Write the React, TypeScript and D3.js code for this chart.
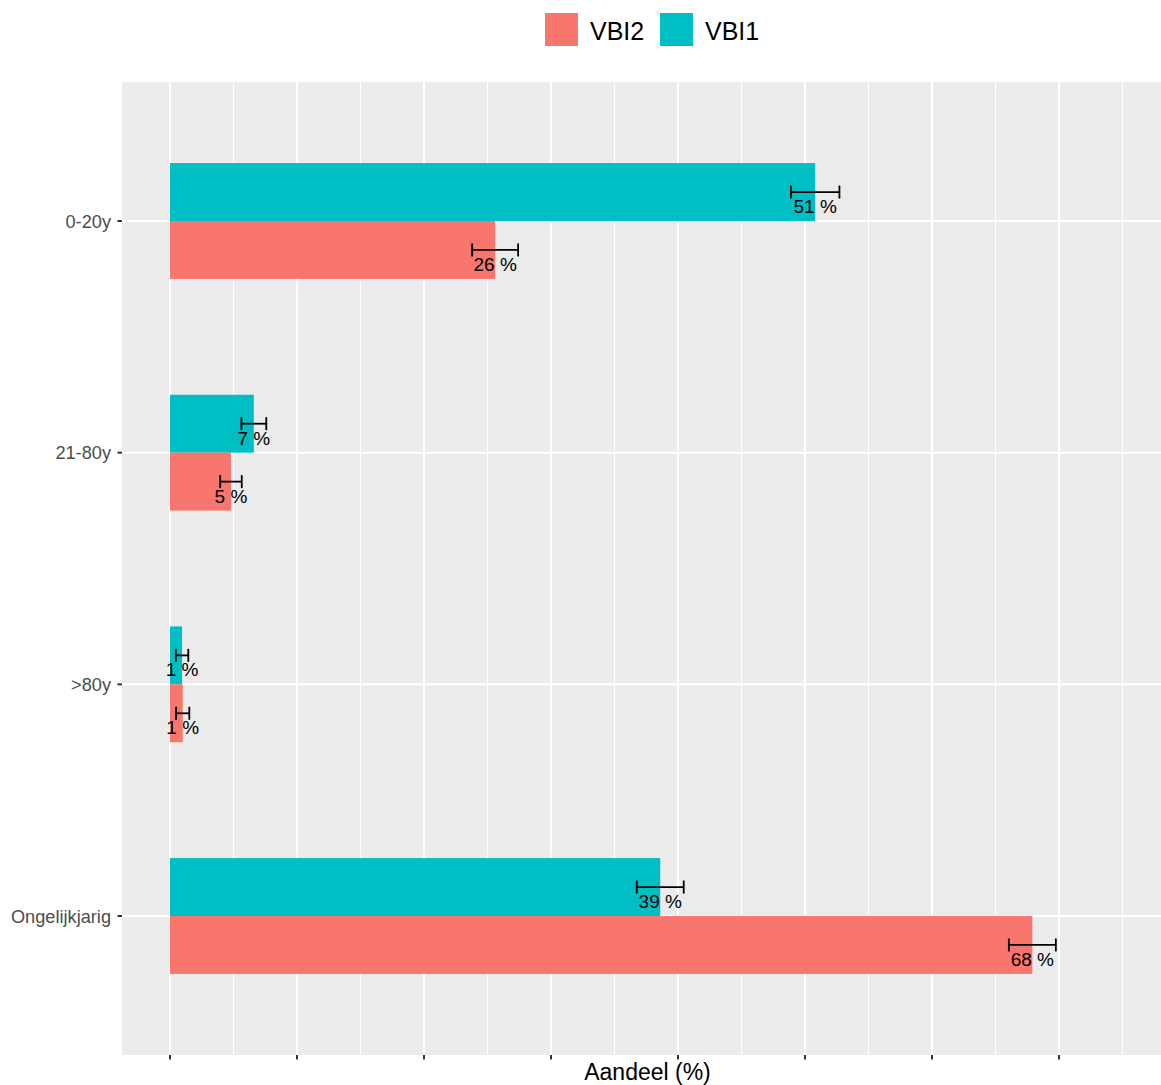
import React from "react";
import * as d3 from "d3";

const categories = ["0-20y", "21-80y", ">80y", "Ongelijkjarig"];
const vbi1Values = [50.8, 6.6, 0.95, 38.6];
const vbi2Values = [25.6, 4.8, 1.0, 67.9];
const vbi1Err = [1.91, 0.98, 0.49, 1.85];
const vbi2Err = [1.81, 0.85, 0.52, 1.85];
const majorTicks = [0, 10, 20, 30, 40, 50, 60, 70];
const minorTicks = [5, 15, 25, 35, 45, 55, 65, 75];
const seriesNames = ["VBI2", "VBI1"];
const seriesColors = ["#F8766D", "#00BFC4"];

const W = 1161;
const H = 1085;
const panel = { left: 122, right: 1161, top: 82, bottom: 1055 };

export default function App() {
  const x = d3.scaleLinear().domain([-3.78, 78.03]).range([panel.left, panel.right]);
  const y = d3.scalePoint<string>().domain(categories).range([panel.top, panel.bottom]).padding(0.6);
  const step = y.step();
  const barH = step * 0.25;
  const font = "Arial, 'Liberation Sans', sans-serif";

  const series = [
    { name: "VBI1", values: vbi1Values, err: vbi1Err, color: seriesColors[1], offset: -1 },
    { name: "VBI2", values: vbi2Values, err: vbi2Err, color: seriesColors[0], offset: 0 },
  ];

  return (
    <svg width={W} height={H} style={{ position: "absolute", left: 0, top: 0, display: "block", background: "#fff" }}>
      <rect x={panel.left} y={panel.top} width={panel.right - panel.left} height={panel.bottom - panel.top} fill="#EBEBEB" />
      {minorTicks.map((t) => (
        <line key={"mn" + t} x1={x(t)} x2={x(t)} y1={panel.top} y2={panel.bottom} stroke="#fff" strokeWidth={1} />
      ))}
      {majorTicks.map((t) => (
        <line key={"mj" + t} x1={x(t)} x2={x(t)} y1={panel.top} y2={panel.bottom} stroke="#fff" strokeWidth={2} />
      ))}
      {categories.map((c) => (
        <line key={"hg" + c} x1={panel.left} x2={panel.right} y1={y(c)} y2={y(c)} stroke="#fff" strokeWidth={2} />
      ))}
      {series.map((s) =>
        categories.map((c, i) => {
          const yc = y(c)!;
          const top = yc + s.offset * barH;
          const mid = top + barH / 2;
          const v = s.values[i];
          const e = s.err[i];
          return (
            <g key={s.name + c}>
              <rect x={x(0)} y={top} width={x(v) - x(0)} height={barH} fill={s.color} />
              <line x1={x(v - e)} x2={x(v + e)} y1={mid} y2={mid} stroke="#000" strokeWidth={1.8} />
              <line x1={x(v - e)} x2={x(v - e)} y1={mid - 6.5} y2={mid + 6.5} stroke="#000" strokeWidth={1.8} />
              <line x1={x(v + e)} x2={x(v + e)} y1={mid - 6.5} y2={mid + 6.5} stroke="#000" strokeWidth={1.8} />
              <text x={x(v)} y={mid + 21} textAnchor="middle" fontFamily={font} fontSize={19} fill="#000">
                {Math.round(v) + " %"}
              </text>
            </g>
          );
        })
      )}
      {categories.map((c) => (
        <g key={"yt" + c}>
          <line x1={panel.left - 4.5} x2={panel.left} y1={y(c)} y2={y(c)} stroke="#333" strokeWidth={2} />
          <text x={111} y={y(c)! + 6.5} textAnchor="end" fontFamily={font} fontSize={18.2} fill="#4D4D4D">
            {c}
          </text>
        </g>
      ))}
      {majorTicks.map((t) => (
        <line key={"xt" + t} x1={x(t)} x2={x(t)} y1={panel.bottom} y2={panel.bottom + 4.5} stroke="#333" strokeWidth={2} />
      ))}
      <text x={(panel.left + panel.right) / 2 + 6} y={1080} textAnchor="middle" fontFamily={font} fontSize={23} fill="#000">
        Aandeel (%)
      </text>
      {seriesNames.map((n, i) => (
        <g key={"lg" + n}>
          <rect x={545 + i * 115} y={13} width={33} height={33} fill={seriesColors[i]} />
          <text x={590 + i * 115} y={39.5} fontFamily={font} fontSize={25} fill="#000">
            {n}
          </text>
        </g>
      ))}
    </svg>
  );
}
